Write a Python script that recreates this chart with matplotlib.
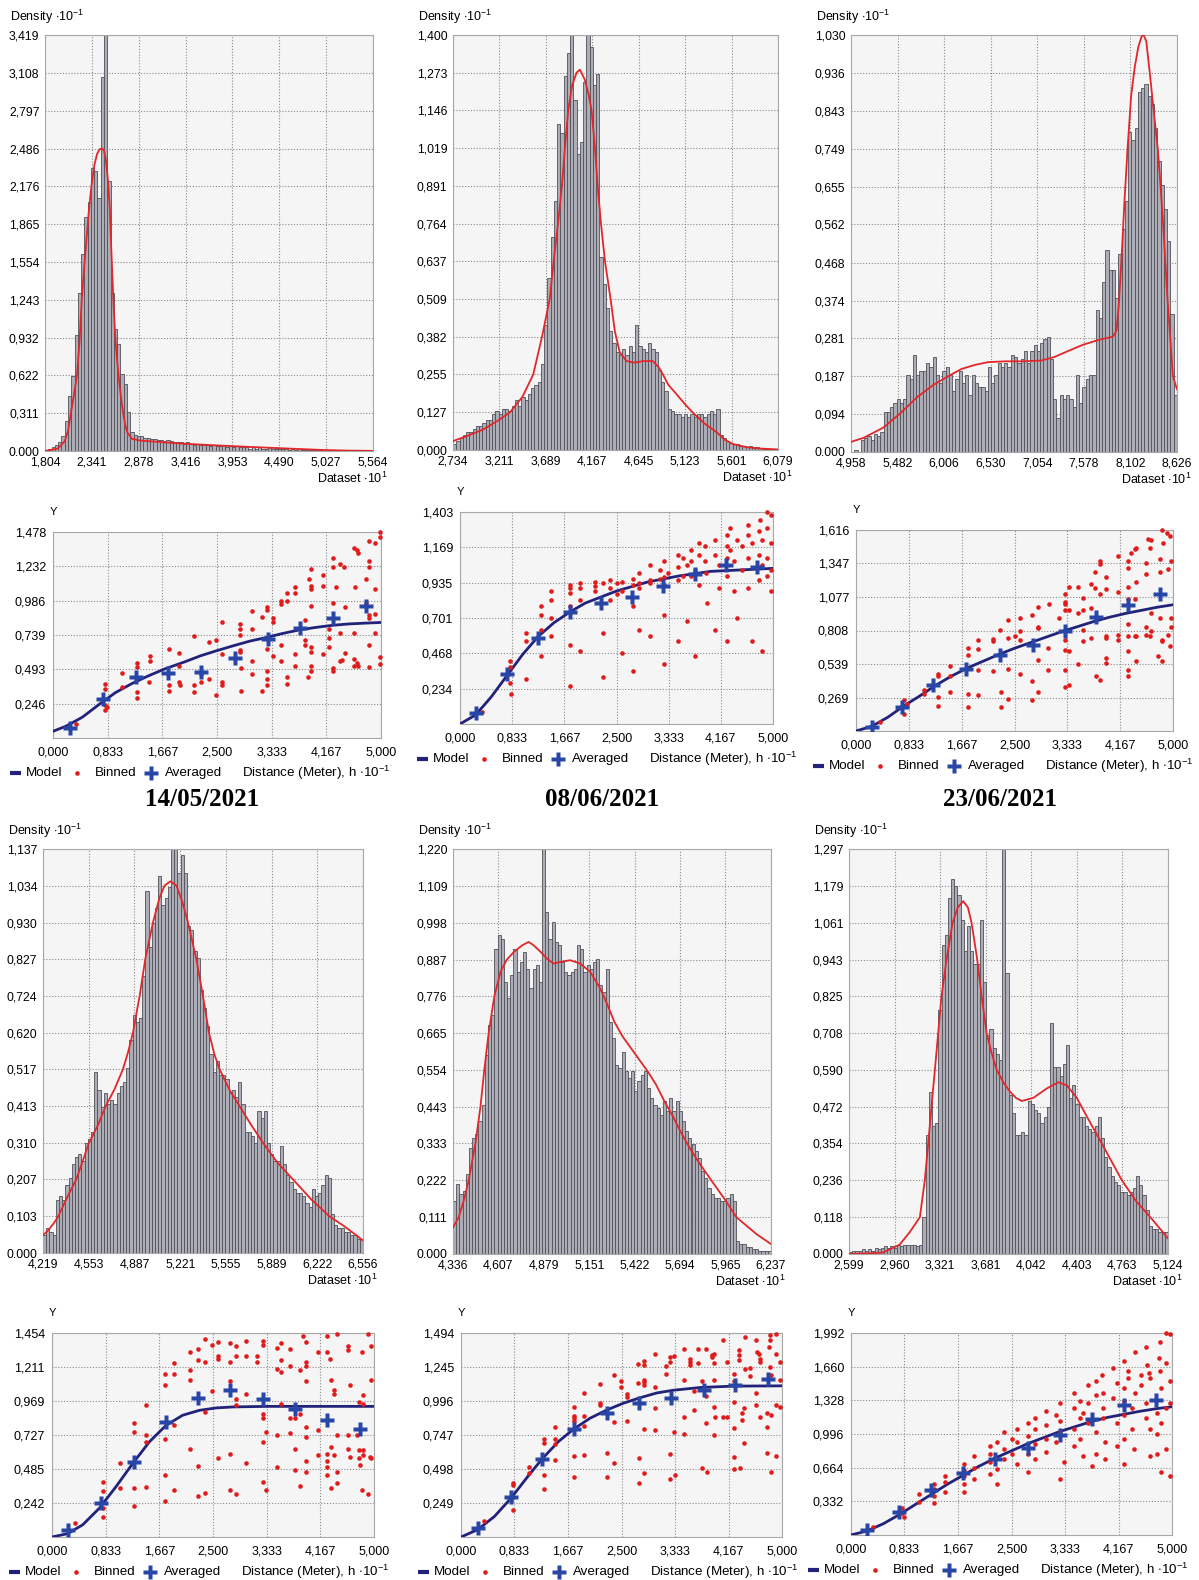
import numpy as np
import matplotlib.pyplot as plt
from matplotlib.lines import Line2D

W, H = 1199, 1580

plt.rcParams['font.family'] = ['Liberation Sans', 'DejaVu Sans']
plt.rcParams['mathtext.fontset'] = 'custom'
plt.rcParams['mathtext.rm'] = 'Liberation Sans'

BAR_FILL = '#adadb7'
BAR_EDGE = '#505058'
CURVE_RED = '#e3262a'
DOT_RED = '#e01b1b'
NAVY = '#22227a'
CROSS_BLUE = '#2846a6'
GRID = '#8a8a8a'
PANEL_BG = '#f5f5f5'

# ---------------- histograms (density 10^-1 vs dataset 10^1) ----------------
h1_xticks = [1.804, 2.341, 2.878, 3.416, 3.953, 4.490, 5.027, 5.564]
h1_yticks = [0.000, 0.311, 0.622, 0.932, 1.243, 1.554, 1.865, 2.176, 2.486, 2.797, 3.108, 3.419]
h1_heights = [0.01, 0.02, 0.03, 0.05, 0.07, 0.12, 0.25, 0.45, 0.62, 0.95,
              1.30, 1.62, 1.92, 2.05, 2.33, 2.30, 2.08, 3.07, 3.42, 2.22,
              1.30, 1.00, 0.88, 0.63, 0.55, 0.32, 0.16, 0.13, 0.12, 0.12,
              0.11, 0.11, 0.10, 0.10, 0.09, 0.09, 0.08, 0.09, 0.08, 0.07,
              0.07, 0.07, 0.06, 0.07, 0.06, 0.05, 0.06, 0.05, 0.05, 0.05,
              0.04, 0.05, 0.04, 0.04, 0.05, 0.03, 0.04, 0.03, 0.04, 0.03,
              0.03, 0.03, 0.02, 0.03, 0.02, 0.03, 0.02, 0.02, 0.03, 0.02,
              0.02, 0.02, 0.02, 0.02, 0.01, 0.02, 0.01, 0.02, 0.01, 0.01,
              0.01, 0.01, 0.01, 0.01, 0.01, 0.01, 0.005, 0.01, 0.005, 0.005,
              0.005, 0.005, 0.003, 0.003, 0.002, 0.002, 0.0, 0.0, 0.0, 0.0]
h1_curve_x = [1.804, 1.95, 2.03, 2.07, 2.10, 2.14, 2.17, 2.20, 2.225, 2.25,
              2.28, 2.31, 2.34, 2.37, 2.40, 2.43, 2.46, 2.48, 2.50, 2.52,
              2.545, 2.57, 2.59, 2.61, 2.63, 2.65, 2.675, 2.70, 2.725, 2.75,
              2.80, 2.90, 3.10, 3.40, 3.80, 4.20, 4.60, 5.00, 5.30, 5.564]
h1_curve_y = [0.0, 0.02, 0.08, 0.17, 0.31, 0.48, 0.62, 0.90, 1.24, 1.48,
              1.75, 2.00, 2.20, 2.35, 2.44, 2.48, 2.486, 2.47, 2.40, 2.27,
              2.02, 1.55, 1.20, 0.93, 0.75, 0.60, 0.44, 0.31, 0.21, 0.15,
              0.10, 0.085, 0.075, 0.06, 0.045, 0.032, 0.02, 0.008, 0.003, 0.001]

h2_xticks = [2.734, 3.211, 3.689, 4.167, 4.645, 5.123, 5.601, 6.079]
h2_yticks = [0.000, 0.127, 0.255, 0.382, 0.509, 0.637, 0.764, 0.891, 1.019, 1.146, 1.273, 1.400]
h2_heights = [0.02, 0.03, 0.04, 0.05, 0.06, 0.06, 0.07, 0.08, 0.08, 0.09,
              0.10, 0.10, 0.12, 0.13, 0.12, 0.14, 0.14, 0.13, 0.15, 0.17,
              0.15, 0.18, 0.17, 0.19, 0.21, 0.22, 0.23, 0.29, 0.42, 0.58,
              0.72, 0.84, 1.10, 1.07, 1.26, 1.34, 1.40, 1.18, 1.00, 1.04,
              1.24, 1.40, 1.36, 1.23, 1.27, 0.65, 0.56, 0.48, 0.40, 0.36,
              0.33, 0.32, 0.34, 0.32, 0.35, 0.33, 0.42, 0.35, 0.34, 0.33,
              0.36, 0.34, 0.33, 0.27, 0.23, 0.20, 0.14, 0.13, 0.12, 0.12,
              0.11, 0.12, 0.11, 0.12, 0.11, 0.12, 0.12, 0.11, 0.12, 0.13,
              0.12, 0.14, 0.05, 0.04, 0.03, 0.025, 0.02, 0.02, 0.015, 0.015,
              0.01, 0.012, 0.008, 0.01, 0.006, 0.005, 0.004, 0.003, 0.002, 0.0]
h2_curve_x = [2.734, 2.9, 3.05, 3.2, 3.32, 3.45, 3.56, 3.65, 3.73, 3.77,
              3.82, 3.855, 3.886, 3.92, 3.96, 4.006, 4.04, 4.09, 4.13, 4.16,
              4.195, 4.223, 4.257, 4.298, 4.356, 4.40, 4.45, 4.52, 4.60, 4.70,
              4.79, 4.85, 4.894, 4.95, 5.03, 5.12, 5.2, 5.32, 5.447, 5.53,
              5.616, 5.75, 5.89, 6.079]
h2_curve_y = [0.03, 0.05, 0.07, 0.10, 0.127, 0.18, 0.255, 0.382, 0.51, 0.637,
              0.78, 0.891, 1.019, 1.146, 1.23, 1.273, 1.283, 1.25, 1.20, 1.146,
              1.019, 0.891, 0.764, 0.637, 0.509, 0.40, 0.33, 0.30, 0.295, 0.30,
              0.30, 0.28, 0.255, 0.22, 0.19, 0.155, 0.127, 0.09, 0.06, 0.035,
              0.02, 0.01, 0.005, 0.002]

h3_xticks = [4.958, 5.482, 6.006, 6.530, 7.054, 7.578, 8.102, 8.626]
h3_yticks = [0.000, 0.094, 0.187, 0.281, 0.374, 0.468, 0.562, 0.655, 0.749, 0.843, 0.936, 1.030]
h3_heights = [0.0, 0.005, 0.0, 0.03, 0.035, 0.04, 0.03, 0.045, 0.04, 0.05,
              0.10, 0.10, 0.11, 0.12, 0.13, 0.12, 0.13, 0.19, 0.18, 0.24,
              0.19, 0.20, 0.20, 0.22, 0.21, 0.235, 0.19, 0.17, 0.20, 0.21,
              0.19, 0.15, 0.18, 0.20, 0.17, 0.19, 0.14, 0.19, 0.17, 0.16,
              0.16, 0.15, 0.21, 0.17, 0.19, 0.22, 0.21, 0.22, 0.21, 0.24,
              0.235, 0.22, 0.23, 0.25, 0.22, 0.25, 0.265, 0.25, 0.27, 0.28,
              0.285, 0.23, 0.13, 0.085, 0.14, 0.13, 0.14, 0.13, 0.11, 0.19,
              0.12, 0.16, 0.18, 0.19, 0.19, 0.35, 0.33, 0.42, 0.50, 0.45,
              0.45, 0.38, 0.49, 0.55, 0.62, 0.79, 0.77, 0.80, 0.89, 0.90,
              0.91, 0.88, 0.86, 0.80, 0.72, 0.66, 0.60, 0.52, 0.34, 0.14]
h3_curve_x = [4.958, 5.1, 5.32, 5.51, 5.70, 5.88, 6.05, 6.2, 6.35, 6.5,
              6.7, 6.9, 7.1, 7.25, 7.386, 7.57, 7.76, 7.87, 7.905, 7.945,
              7.97, 8.00, 8.035, 8.07, 8.11, 8.15, 8.19, 8.23, 8.25, 8.28,
              8.32, 8.36, 8.41, 8.44, 8.47, 8.52, 8.58, 8.626]
h3_curve_y = [0.025, 0.035, 0.06, 0.095, 0.135, 0.165, 0.187, 0.205, 0.215, 0.222,
              0.224, 0.224, 0.226, 0.235, 0.248, 0.265, 0.278, 0.283, 0.285, 0.30,
              0.36, 0.47, 0.62, 0.75, 0.88, 0.95, 1.00, 1.028, 1.03, 1.015,
              0.936, 0.85, 0.749, 0.66, 0.562, 0.374, 0.187, 0.155]

h4_xticks = [4.219, 4.553, 4.887, 5.221, 5.555, 5.889, 6.222, 6.556]
h4_yticks = [0.000, 0.103, 0.207, 0.310, 0.413, 0.517, 0.620, 0.724, 0.827, 0.930, 1.034, 1.137]
h4_heights = [0.05, 0.07, 0.06, 0.05, 0.15, 0.16, 0.15, 0.19, 0.21, 0.25,
              0.27, 0.28, 0.26, 0.31, 0.32, 0.34, 0.51, 0.46, 0.41, 0.45,
              0.42, 0.43, 0.42, 0.45, 0.47, 0.48, 0.52, 0.60, 0.67, 0.65,
              0.66, 0.78, 1.02, 0.86, 0.93, 0.97, 1.06, 0.98, 1.00, 1.03,
              1.14, 1.14, 1.07, 1.12, 1.07, 0.92, 0.91, 0.85, 0.83, 0.74,
              0.69, 0.64, 0.56, 0.51, 0.54, 0.50, 0.50, 0.49, 0.45, 0.46,
              0.44, 0.48, 0.42, 0.34, 0.34, 0.33, 0.31, 0.40, 0.38, 0.40,
              0.31, 0.28, 0.26, 0.26, 0.30, 0.25, 0.22, 0.20, 0.18, 0.17,
              0.17, 0.16, 0.14, 0.13, 0.18, 0.16, 0.17, 0.19, 0.22, 0.21,
              0.11, 0.08, 0.07, 0.07, 0.06, 0.06, 0.05, 0.05, 0.04, 0.04]
h4_curve_x = [4.219, 4.26, 4.30, 4.33, 4.40, 4.462, 4.555, 4.62, 4.677, 4.74,
              4.803, 4.84, 4.876, 4.925, 4.966, 5.022, 5.07, 5.107, 5.149, 5.193,
              5.235, 5.278, 5.339, 5.387, 5.431, 5.47, 5.509, 5.58, 5.655, 5.74,
              5.826, 5.93, 6.045, 6.18, 6.312, 6.42, 6.507, 6.556]
h4_curve_y = [0.05, 0.065, 0.085, 0.103, 0.16, 0.207, 0.310, 0.36, 0.413, 0.46,
              0.517, 0.565, 0.620, 0.724, 0.827, 0.930, 1.00, 1.034, 1.046, 1.034,
              0.99, 0.930, 0.827, 0.724, 0.620, 0.56, 0.517, 0.46, 0.413, 0.36,
              0.310, 0.255, 0.207, 0.15, 0.103, 0.075, 0.05, 0.035]

h5_xticks = [4.336, 4.607, 4.879, 5.151, 5.422, 5.694, 5.965, 6.237]
h5_yticks = [0.000, 0.111, 0.222, 0.333, 0.443, 0.554, 0.665, 0.776, 0.887, 0.998, 1.109, 1.220]
h5_heights = [0.16, 0.21, 0.18, 0.19, 0.24, 0.32, 0.35, 0.36, 0.40, 0.45,
              0.60, 0.69, 0.72, 0.92, 0.96, 0.95, 0.82, 0.77, 0.84, 0.92,
              0.85, 0.88, 0.91, 0.86, 0.80, 0.86, 0.87, 0.82, 1.22, 1.03,
              0.95, 1.00, 0.94, 0.93, 0.88, 0.85, 0.84, 0.85, 0.86, 0.93,
              0.92, 0.85, 0.87, 0.86, 0.88, 0.89, 0.81, 0.79, 0.86, 0.70,
              0.65, 0.57, 0.56, 0.61, 0.55, 0.53, 0.55, 0.49, 0.52, 0.54,
              0.55, 0.50, 0.47, 0.45, 0.44, 0.42, 0.46, 0.43, 0.47, 0.43,
              0.46, 0.43, 0.40, 0.37, 0.35, 0.33, 0.31, 0.29, 0.25, 0.23,
              0.20, 0.18, 0.17, 0.17, 0.16, 0.16, 0.17, 0.18, 0.16, 0.04,
              0.03, 0.03, 0.02, 0.02, 0.015, 0.015, 0.01, 0.01, 0.008, 0.008]
h5_curve_x = [4.336, 4.37, 4.40, 4.43, 4.47, 4.50, 4.523, 4.549, 4.583, 4.62,
              4.658, 4.70, 4.75, 4.788, 4.818, 4.86, 4.897, 4.937, 4.98, 5.037,
              5.096, 5.156, 5.216, 5.26, 5.30, 5.35, 5.40, 5.45, 5.50, 5.55,
              5.60, 5.65, 5.70, 5.75, 5.80, 5.88, 5.96, 6.03, 6.15, 6.237]
h5_curve_y = [0.08, 0.111, 0.16, 0.222, 0.333, 0.443, 0.554, 0.665, 0.776, 0.85,
              0.887, 0.91, 0.93, 0.94, 0.93, 0.91, 0.89, 0.875, 0.88, 0.885,
              0.875, 0.85, 0.80, 0.75, 0.70, 0.655, 0.62, 0.585, 0.55, 0.51,
              0.46, 0.415, 0.365, 0.32, 0.28, 0.222, 0.165, 0.111, 0.06, 0.03]

h6_xticks = [2.599, 2.960, 3.321, 3.681, 4.042, 4.403, 4.763, 5.124]
h6_yticks = [0.000, 0.118, 0.236, 0.354, 0.472, 0.590, 0.708, 0.825, 0.943, 1.061, 1.179, 1.297]
h6_heights = [0.005, 0.01, 0.01, 0.01, 0.015, 0.01, 0.015, 0.01, 0.02, 0.015,
              0.02, 0.025, 0.02, 0.025, 0.02, 0.03, 0.025, 0.03, 0.03, 0.03,
              0.03, 0.025, 0.03, 0.12, 0.38, 0.52, 0.41, 0.42, 0.78, 0.99,
              1.02, 1.14, 1.20, 1.18, 1.15, 1.07, 0.97, 1.05, 0.97, 0.93,
              0.93, 1.07, 0.87, 0.70, 0.72, 0.66, 0.64, 0.62, 1.30, 0.90,
              0.51, 0.45, 0.38, 0.38, 0.39, 0.38, 0.49, 0.48, 0.46, 0.45,
              0.42, 0.44, 0.47, 0.74, 0.60, 0.60, 0.57, 0.61, 0.67, 0.50,
              0.54, 0.48, 0.44, 0.44, 0.41, 0.40, 0.39, 0.41, 0.44, 0.37,
              0.31, 0.28, 0.25, 0.23, 0.22, 0.20, 0.20, 0.19, 0.20, 0.21,
              0.25, 0.22, 0.19, 0.14, 0.09, 0.08, 0.08, 0.07, 0.07, 0.07]
h6_curve_x = [2.599, 2.75, 2.87, 3.0, 3.08, 3.16, 3.199, 3.226, 3.252, 3.279,
              3.305, 3.331, 3.371, 3.419, 3.46, 3.503, 3.54, 3.569, 3.614, 3.649,
              3.688, 3.73, 3.768, 3.82, 3.873, 3.92, 3.966, 4.058, 4.164, 4.257,
              4.323, 4.402, 4.482, 4.6, 4.759, 4.87, 4.984, 5.124]
h6_curve_y = [0.0, 0.002, 0.005, 0.03, 0.07, 0.118, 0.236, 0.354, 0.472, 0.59,
              0.708, 0.825, 0.943, 1.061, 1.11, 1.13, 1.11, 1.061, 0.943, 0.825,
              0.708, 0.64, 0.59, 0.55, 0.52, 0.50, 0.49, 0.50, 0.53, 0.55,
              0.54, 0.50, 0.44, 0.354, 0.236, 0.17, 0.118, 0.05]

# ---------------- semivariograms (gamma vs distance) ----------------
vario_xticks = [0.000, 0.833, 1.667, 2.500, 3.333, 4.167, 5.000]

v1_yticks = [0.246, 0.493, 0.739, 0.986, 1.232, 1.478]
v1_model_x = [0, 0.2, 0.45, 0.7, 0.95, 1.2, 1.45, 1.7, 2.0, 2.25, 2.5,
              2.75, 3.0, 3.25, 3.5, 3.75, 4.0, 4.25, 4.5, 4.75, 5.0]
v1_model_y = [0.048, 0.085, 0.15, 0.24, 0.325, 0.39, 0.445, 0.495, 0.545, 0.59, 0.627,
              0.662, 0.695, 0.721, 0.750, 0.775, 0.793, 0.808, 0.818, 0.824, 0.829]
v1_averaged = [(0.254, 0.071), (0.763, 0.281), (1.261, 0.440), (1.755, 0.464), (2.263, 0.476),
               (2.772, 0.571), (3.281, 0.710), (3.764, 0.786), (4.273, 0.862), (4.771, 0.948)]
v1_binned = [(0.356, 0.102), (0.80, 0.39), (0.80, 0.35), (0.80, 0.24), (0.82, 0.22), (0.80, 0.20),
             (1.058, 0.464), (1.058, 0.364), (1.28, 0.54), (1.28, 0.51), (1.28, 0.33), (1.28, 0.29),
             (1.475, 0.59), (1.475, 0.55), (1.465, 0.40), (1.77, 0.64), (1.77, 0.38), (1.77, 0.34),
             (1.92, 0.61), (1.92, 0.52), (1.92, 0.40), (1.93, 0.38), (2.15, 0.73), (2.15, 0.38),
             (2.15, 0.33), (2.26, 0.46), (2.26, 0.40), (2.38, 0.69), (2.38, 0.42), (2.48, 0.70),
             (2.49, 0.305), (2.58, 0.83), (2.58, 0.60), (2.58, 0.40), (2.58, 0.38), (2.85, 0.82),
             (2.85, 0.78), (2.85, 0.74), (2.85, 0.63), (2.85, 0.62), (2.86, 0.50), (2.86, 0.34),
             (3.03, 0.91), (3.03, 0.78), (3.03, 0.55), (3.03, 0.46), (3.19, 0.87), (3.19, 0.34),
             (3.26, 0.94), (3.26, 0.92), (3.26, 0.64), (3.26, 0.48), (3.26, 0.42), (3.26, 0.38),
             (3.35, 0.86), (3.35, 0.83), (3.35, 0.59), (3.48, 0.98), (3.48, 0.96), (3.48, 0.67),
             (3.48, 0.55), (3.56, 1.04), (3.56, 0.98), (3.56, 0.44), (3.56, 0.39), (3.69, 1.08),
             (3.69, 1.04), (3.69, 0.60), (3.69, 0.52), (3.84, 0.85), (3.84, 0.70), (3.84, 0.67),
             (3.91, 1.14), (3.94, 1.21), (3.94, 1.09), (3.94, 1.07), (3.94, 0.95), (3.94, 0.65),
             (3.94, 0.62), (3.94, 0.52), (3.94, 0.48), (3.89, 0.44), (4.12, 1.17), (4.12, 1.09),
             (4.12, 0.60), (4.20, 0.78), (4.20, 0.72), (4.20, 0.65), (4.27, 1.29), (4.27, 1.23),
             (4.27, 0.97), (4.27, 0.50), (4.27, 0.48), (4.32, 1.08), (4.37, 1.25), (4.43, 1.23),
             (4.37, 0.75), (4.37, 0.555), (4.40, 0.56), (4.45, 0.94), (4.45, 0.61), (4.59, 0.75),
             (4.59, 0.57), (4.59, 0.52), (4.59, 1.36), (4.63, 1.35), (4.65, 1.33), (4.60, 1.08),
             (4.63, 0.54), (4.65, 0.52), (4.77, 1.14), (4.77, 0.97), (4.81, 1.27), (4.81, 1.23),
             (4.81, 0.88), (4.81, 0.86), (4.81, 0.67), (4.81, 0.51), (4.81, 1.41), (4.91, 1.40),
             (4.91, 1.07), (4.91, 0.89), (4.91, 0.75), (4.98, 1.48), (4.98, 1.44), (4.98, 0.58),
             (4.98, 0.53)]

v2_yticks = [0.234, 0.468, 0.701, 0.935, 1.169, 1.403]
v2_model_x = [0, 0.25, 0.5, 0.75, 1.0, 1.25, 1.5, 1.75, 2.0, 2.5, 3.0, 3.5, 4.0, 4.5, 5.0]
v2_model_y = [0, 0.06, 0.18, 0.32, 0.46, 0.58, 0.67, 0.74, 0.80, 0.88, 0.94, 0.98, 1.01, 1.02, 1.03]
v2_averaged = [(0.25, 0.07), (0.75, 0.33), (1.25, 0.57), (1.75, 0.74), (2.25, 0.80),
               (2.75, 0.84), (3.25, 0.91), (3.75, 0.99), (4.25, 1.05), (4.75, 1.04)]
v2_binned = [(0.35, 0.08), (0.80, 0.42), (0.80, 0.38), (0.80, 0.27), (0.82, 0.20), (1.06, 0.60),
             (1.06, 0.55), (1.06, 0.30), (1.30, 0.78), (1.30, 0.72), (1.30, 0.62), (1.30, 0.45),
             (1.46, 0.88), (1.46, 0.82), (1.46, 0.70), (1.46, 0.58), (1.76, 0.92), (1.76, 0.90),
             (1.76, 0.87), (1.76, 0.78), (1.76, 0.52), (1.76, 0.25), (1.91, 0.93), (1.91, 0.90),
             (1.91, 0.82), (1.91, 0.48), (2.16, 0.94), (2.16, 0.91), (2.16, 0.88), (2.28, 0.93),
             (2.28, 0.60), (2.28, 0.31), (2.39, 0.95), (2.39, 0.90), (2.39, 0.82), (2.50, 0.93),
             (2.50, 0.86), (2.59, 0.94), (2.59, 0.88), (2.59, 0.47), (2.76, 0.96), (2.76, 0.92),
             (2.76, 0.78), (2.76, 0.35), (2.86, 1.00), (2.86, 0.93), (2.86, 0.90), (2.86, 0.62),
             (3.03, 1.05), (3.03, 0.95), (3.03, 0.93), (3.03, 0.58), (3.19, 1.02), (3.19, 0.96),
             (3.26, 1.08), (3.26, 0.97), (3.26, 0.92), (3.26, 0.72), (3.26, 0.40), (3.32, 1.00),
             (3.48, 1.12), (3.48, 1.04), (3.48, 0.95), (3.48, 0.55), (3.56, 1.10), (3.56, 0.98),
             (3.62, 1.05), (3.62, 0.68), (3.69, 1.15), (3.69, 1.08), (3.69, 0.98), (3.75, 1.02),
             (3.75, 0.45), (3.82, 1.20), (3.82, 1.12), (3.82, 0.92), (3.91, 1.18), (3.91, 1.08),
             (3.93, 1.00), (3.95, 0.80), (4.08, 1.22), (4.08, 1.12), (4.08, 0.62), (4.14, 1.05),
             (4.14, 0.90), (4.26, 1.25), (4.26, 1.18), (4.26, 1.10), (4.26, 0.98), (4.26, 0.55),
             (4.32, 1.30), (4.32, 1.15), (4.38, 1.08), (4.38, 0.88), (4.43, 1.22), (4.43, 0.70),
             (4.51, 1.18), (4.51, 1.02), (4.60, 1.32), (4.60, 1.25), (4.60, 1.10), (4.60, 0.90),
             (4.66, 1.20), (4.66, 0.55), (4.77, 1.28), (4.77, 1.12), (4.77, 0.95), (4.79, 1.35),
             (4.82, 1.22), (4.83, 1.05), (4.83, 0.48), (4.91, 1.40), (4.91, 1.30), (4.91, 1.10),
             (4.91, 0.98), (4.97, 1.38), (4.97, 1.20), (4.97, 1.02), (4.97, 0.88)]

v3_yticks = [0.269, 0.539, 0.808, 1.077, 1.347, 1.616]
v3_model_x = [0, 0.25, 0.5, 0.75, 1.0, 1.25, 1.5, 1.75, 2.0, 2.25, 2.5,
              2.75, 3.0, 3.25, 3.5, 3.75, 4.0, 4.25, 4.5, 4.75, 5.0]
v3_model_y = [0.0, 0.038, 0.11, 0.20, 0.28, 0.365, 0.44, 0.505, 0.56, 0.615, 0.665,
              0.71, 0.755, 0.80, 0.84, 0.88, 0.915, 0.945, 0.97, 0.995, 1.015]
v3_averaged = [(0.247, 0.032), (0.72, 0.19), (1.22, 0.37), (1.74, 0.50), (2.27, 0.61),
               (2.79, 0.69), (3.29, 0.80), (3.79, 0.92), (4.29, 1.01), (4.79, 1.10)]
v3_binned = [(0.38, 0.07), (0.75, 0.25), (0.75, 0.14), (0.80, 0.22), (1.07, 0.33), (1.07, 0.30),
             (1.29, 0.46), (1.29, 0.44), (1.29, 0.27), (1.29, 0.20), (1.48, 0.52), (1.48, 0.44),
             (1.48, 0.315), (1.77, 0.665), (1.77, 0.61), (1.77, 0.30), (1.77, 0.19), (1.93, 0.73),
             (1.93, 0.66), (1.93, 0.49), (1.93, 0.29), (2.16, 0.74), (2.16, 0.72), (2.16, 0.48),
             (2.27, 0.81), (2.28, 0.315), (2.28, 0.19), (2.40, 0.89), (2.40, 0.75), (2.40, 0.50),
             (2.40, 0.26), (2.51, 0.76), (2.59, 0.91), (2.59, 0.80), (2.59, 0.73), (2.59, 0.46),
             (2.78, 0.93), (2.78, 0.40), (2.78, 0.25), (2.87, 1.00), (2.87, 0.84), (2.87, 0.83),
             (2.87, 0.57), (2.87, 0.31), (3.03, 0.67), (3.03, 0.49), (3.05, 1.02), (3.20, 0.91),
             (3.29, 1.10), (3.29, 1.04), (3.29, 1.02), (3.29, 0.975), (3.29, 0.73), (3.29, 0.65),
             (3.29, 0.49), (3.29, 0.355), (3.36, 1.16), (3.36, 0.975), (3.36, 0.64), (3.36, 0.37),
             (3.50, 1.16), (3.50, 0.95), (3.50, 0.54), (3.58, 1.07), (3.58, 0.975), (3.58, 0.72),
             (3.58, 0.81), (3.70, 1.18), (3.70, 0.99), (3.70, 0.75), (3.77, 1.28), (3.77, 1.15),
             (3.78, 0.44), (3.85, 1.37), (3.85, 1.34), (3.85, 1.10), (3.85, 0.41), (3.94, 1.14),
             (3.94, 1.24), (3.94, 0.76), (3.94, 0.75), (3.94, 0.585), (3.94, 0.545), (4.13, 1.41),
             (4.13, 1.12), (4.13, 0.77), (4.13, 0.73), (4.29, 1.37), (4.29, 1.31), (4.29, 1.16),
             (4.29, 1.06), (4.29, 0.86), (4.29, 0.765), (4.29, 0.64), (4.29, 0.49), (4.29, 0.44),
             (4.34, 1.43), (4.40, 1.46), (4.42, 1.47), (4.40, 0.765), (4.42, 0.76), (4.42, 0.56),
             (4.40, 1.06), (4.42, 1.20), (4.58, 1.35), (4.58, 1.26), (4.58, 0.84), (4.58, 0.77),
             (4.61, 1.54), (4.66, 1.535), (4.63, 1.47), (4.66, 0.95), (4.66, 0.80), (4.63, 0.76),
             (4.76, 0.60), (4.82, 0.56), (4.79, 1.38), (4.80, 1.28), (4.82, 0.73), (4.82, 0.72),
             (4.79, 0.91), (4.82, 1.62), (4.84, 1.51), (4.90, 1.59), (4.96, 1.57), (4.97, 1.37),
             (4.92, 1.30), (4.92, 0.77), (4.95, 0.68), (4.97, 0.91), (4.97, 0.84)]

v4_yticks = [0.242, 0.485, 0.727, 0.969, 1.211, 1.454]
v4_model_x = [0, 0.244, 0.477, 0.737, 0.996, 1.255, 1.515, 1.774, 2.03, 2.29, 2.55, 2.81, 3.33, 4.0, 5.0]
v4_model_y = [0, 0.024, 0.087, 0.206, 0.36, 0.525, 0.68, 0.797, 0.868, 0.903, 0.92, 0.927, 0.931, 0.931, 0.931]
v4_averaged = [(0.244, 0.047), (0.762, 0.241), (1.266, 0.537), (1.774, 0.82), (2.267, 0.993),
               (2.76, 1.045), (3.28, 0.986), (3.77, 0.915), (4.27, 0.832), (4.78, 0.773)]
v4_binned = [(0.35, 0.10), (0.79, 0.39), (0.79, 0.33), (0.79, 0.206), (0.79, 0.14), (1.06, 0.525),
             (1.06, 0.35), (1.28, 0.81), (1.28, 0.75), (1.28, 0.35), (1.28, 0.22), (1.46, 0.94),
             (1.46, 0.73), (1.46, 0.68), (1.46, 0.355), (1.76, 1.16), (1.76, 1.08), (1.76, 0.70),
             (1.76, 0.44), (1.76, 0.26), (1.90, 1.24), (1.90, 1.16), (1.90, 0.80), (1.90, 0.335),
             (2.15, 1.32), (2.15, 1.19), (2.15, 1.12), (2.15, 0.63), (2.27, 1.34), (2.27, 1.26),
             (2.27, 0.506), (2.27, 0.29), (2.37, 1.41), (2.37, 1.25), (2.38, 0.89), (2.38, 0.317),
             (2.49, 1.37), (2.49, 1.04), (2.58, 1.39), (2.58, 1.29), (2.58, 1.27), (2.58, 0.565),
             (2.76, 1.38), (2.76, 1.25), (2.76, 1.11), (2.76, 0.595), (2.76, 0.335), (2.86, 1.36),
             (2.86, 1.29), (2.86, 0.986), (2.86, 0.94), (2.86, 0.31), (3.02, 1.40), (3.02, 1.29),
             (3.02, 1.02), (3.02, 0.525), (3.18, 1.29), (3.18, 1.25), (3.28, 1.40), (3.28, 1.37),
             (3.28, 0.88), (3.28, 0.85), (3.28, 0.68), (3.28, 0.395), (3.33, 0.75), (3.33, 0.335),
             (3.49, 1.35), (3.49, 1.20), (3.49, 0.73), (3.49, 0.50), (3.56, 1.38), (3.56, 1.26),
             (3.56, 1.175), (3.56, 0.95), (3.69, 1.34), (3.69, 1.22), (3.69, 0.845), (3.69, 0.74),
             (3.77, 0.845), (3.77, 0.625), (3.77, 0.48), (3.85, 1.19), (3.85, 0.875), (3.85, 0.36),
             (3.90, 1.435), (3.95, 1.39), (3.95, 1.25), (3.95, 1.22), (3.95, 1.11), (3.95, 0.785),
             (3.95, 0.71), (3.95, 0.54), (3.95, 0.46), (4.13, 1.32), (4.13, 0.76), (4.13, 0.585),
             (4.27, 1.435), (4.27, 1.32), (4.27, 0.595), (4.27, 0.54), (4.27, 0.50), (4.27, 0.44),
             (4.32, 1.27), (4.34, 1.12), (4.34, 0.64), (4.38, 1.045), (4.38, 1.02), (4.38, 0.585),
             (4.34, 0.35), (4.43, 1.45), (4.43, 0.725), (4.43, 0.465), (4.43, 0.383), (4.60, 1.36),
             (4.60, 1.33), (4.63, 1.08), (4.60, 0.725), (4.60, 0.625), (4.63, 0.57), (4.73, 0.725),
             (4.76, 0.96), (4.76, 0.62), (4.76, 0.56), (4.78, 0.51), (4.81, 0.335), (4.82, 1.32),
             (4.83, 1.01), (4.83, 0.95), (4.83, 0.62), (4.83, 0.585), (4.91, 1.45), (4.96, 1.36),
             (4.96, 1.12), (4.94, 0.57), (4.96, 0.56), (4.91, 0.31)]

v5_yticks = [0.249, 0.498, 0.747, 0.996, 1.245, 1.494]
v5_model_x = [0, 0.26, 0.52, 0.78, 1.04, 1.26, 1.52, 1.755, 2.01, 2.27, 2.53, 2.79, 3.05, 3.31, 3.73, 4.25, 5.0]
v5_model_y = [0, 0.054, 0.15, 0.285, 0.443, 0.57, 0.70, 0.79, 0.87, 0.93, 0.98, 1.02, 1.055, 1.075, 1.095, 1.105, 1.107]
v5_averaged = [(0.26, 0.066), (0.78, 0.29), (1.26, 0.57), (1.755, 0.79), (2.27, 0.905),
               (2.77, 0.98), (3.27, 1.02), (3.78, 1.08), (4.27, 1.11), (4.78, 1.16)]
v5_binned = [(0.353, 0.119), (0.805, 0.399), (0.805, 0.382), (0.805, 0.20), (0.779, 0.268),
             (1.064, 0.516), (1.064, 0.472), (1.298, 0.715), (1.298, 0.691), (1.298, 0.455),
             (1.298, 0.350), (1.459, 0.803), (1.459, 0.715), (1.459, 0.681), (1.459, 0.564),
             (1.765, 0.954), (1.765, 0.886), (1.765, 0.869), (1.765, 0.852), (1.765, 0.594),
             (1.765, 0.438), (1.911, 1.051), (1.911, 0.886), (1.911, 0.813), (1.911, 0.601),
             (2.160, 1.124), (2.160, 0.978), (2.160, 0.966), (2.274, 0.613), (2.274, 0.438),
             (2.388, 1.190), (2.378, 0.844), (2.388, 0.545), (2.492, 1.144), (2.492, 1.095),
             (2.586, 1.046), (2.586, 1.022), (2.586, 0.852), (2.752, 1.270), (2.752, 1.129),
             (2.767, 0.577), (2.767, 0.399), (2.856, 1.290), (2.856, 1.258), (2.856, 1.153),
             (2.856, 1.136), (2.856, 1.112), (2.856, 0.788), (2.856, 0.472), (3.027, 1.343),
             (3.027, 1.095), (3.027, 0.942), (3.027, 0.783), (3.193, 1.251), (3.193, 1.192),
             (3.261, 1.319), (3.261, 1.282), (3.261, 0.608), (3.261, 0.423), (3.323, 1.324),
             (3.323, 0.771), (3.339, 0.455), (3.479, 1.380), (3.479, 1.148), (3.479, 0.881),
             (3.479, 0.754), (3.562, 1.307), (3.562, 1.282), (3.562, 1.258), (3.624, 1.071),
             (3.624, 0.929), (3.692, 1.380), (3.692, 1.275), (3.754, 1.144), (3.754, 0.504),
             (3.821, 1.380), (3.832, 0.479), (3.821, 0.837), (3.821, 1.032), (3.910, 1.331),
             (3.910, 1.319), (3.936, 1.343), (3.936, 1.275), (3.936, 1.153), (3.946, 0.954),
             (3.962, 0.881), (3.946, 0.747), (4.081, 1.440), (4.081, 0.876), (4.143, 1.282),
             (4.143, 0.881), (4.258, 1.197), (4.258, 1.144), (4.258, 0.990), (4.258, 0.796),
             (4.258, 0.589), (4.258, 0.496), (4.325, 1.367), (4.325, 1.331), (4.325, 1.294),
             (4.377, 0.856), (4.377, 0.905), (4.341, 0.504), (4.413, 0.686), (4.413, 0.942),
             (4.429, 1.465), (4.429, 1.234), (4.507, 1.178), (4.507, 1.241), (4.600, 1.440),
             (4.600, 1.051), (4.600, 0.966), (4.611, 1.355), (4.637, 1.343), (4.662, 1.307),
             (4.662, 0.881), (4.662, 1.282), (4.766, 0.905), (4.766, 0.808), (4.766, 0.613),
             (4.792, 1.392), (4.818, 1.440), (4.818, 1.477), (4.818, 1.246), (4.829, 1.185),
             (4.829, 0.893), (4.829, 0.479), (4.912, 1.489), (4.912, 1.343), (4.912, 0.966),
             (4.912, 0.594), (4.974, 1.282), (4.974, 1.153), (4.974, 0.949)]

v6_yticks = [0.332, 0.664, 0.996, 1.328, 1.660, 1.992]
v6_model_x = [0, 0.25, 0.5, 0.75, 1.0, 1.25, 1.5, 1.75, 2.0, 2.25, 2.5,
              2.75, 3.0, 3.25, 3.5, 3.75, 4.0, 4.25, 4.5, 4.75, 5.0]
v6_model_y = [0, 0.04, 0.11, 0.20, 0.30, 0.40, 0.50, 0.59, 0.68, 0.76, 0.83,
              0.90, 0.96, 1.02, 1.07, 1.12, 1.16, 1.19, 1.22, 1.245, 1.265]
v6_averaged = [(0.25, 0.05), (0.75, 0.23), (1.25, 0.44), (1.75, 0.61), (2.25, 0.75),
               (2.75, 0.86), (3.25, 0.99), (3.75, 1.14), (4.25, 1.28), (4.75, 1.33)]
v6_binned = [(0.35, 0.08), (0.80, 0.27), (0.80, 0.22), (0.82, 0.18), (1.06, 0.40), (1.06, 0.33),
             (1.30, 0.50), (1.30, 0.45), (1.30, 0.38), (1.30, 0.32), (1.46, 0.58), (1.46, 0.52),
             (1.46, 0.42), (1.76, 0.70), (1.76, 0.64), (1.76, 0.58), (1.76, 0.50), (1.76, 0.42),
             (1.91, 0.78), (1.91, 0.66), (1.91, 0.55), (2.16, 0.88), (2.16, 0.80), (2.16, 0.72),
             (2.16, 0.60), (2.28, 0.92), (2.28, 0.65), (2.28, 0.50), (2.39, 1.02), (2.39, 0.85),
             (2.39, 0.75), (2.50, 0.95), (2.50, 0.80), (2.59, 1.05), (2.59, 0.92), (2.59, 0.70),
             (2.76, 1.10), (2.76, 0.98), (2.76, 0.80), (2.76, 0.62), (2.86, 1.15), (2.86, 1.05),
             (2.86, 0.90), (2.86, 0.75), (3.03, 1.22), (3.03, 1.08), (3.03, 0.95), (3.03, 0.82),
             (3.19, 1.18), (3.19, 0.92), (3.26, 1.30), (3.26, 1.12), (3.26, 1.02), (3.26, 0.55),
             (3.32, 0.72), (3.48, 1.40), (3.48, 1.25), (3.48, 1.05), (3.48, 0.88), (3.56, 1.32),
             (3.56, 1.15), (3.56, 0.95), (3.62, 1.20), (3.62, 0.78), (3.69, 1.48), (3.69, 1.30),
             (3.69, 1.10), (3.75, 0.68), (3.82, 1.52), (3.82, 1.38), (3.82, 1.02), (3.82, 0.80),
             (3.91, 1.58), (3.93, 1.40), (3.93, 1.25), (3.93, 1.15), (3.95, 0.92), (3.95, 0.75),
             (4.08, 1.65), (4.08, 1.35), (4.14, 1.50), (4.14, 1.10), (4.14, 0.88), (4.26, 1.72),
             (4.26, 1.45), (4.26, 1.32), (4.26, 1.18), (4.26, 0.95), (4.26, 0.70), (4.32, 1.62),
             (4.32, 1.55), (4.38, 1.25), (4.38, 1.05), (4.41, 0.85), (4.43, 1.80), (4.43, 1.40),
             (4.51, 1.58), (4.51, 1.48), (4.60, 1.85), (4.60, 1.30), (4.60, 1.15), (4.61, 1.68),
             (4.64, 1.60), (4.66, 1.55), (4.66, 1.05), (4.66, 0.78), (4.77, 1.20), (4.77, 1.00),
             (4.77, 0.80), (4.79, 1.75), (4.82, 1.90), (4.82, 1.62), (4.83, 1.45), (4.83, 1.10),
             (4.83, 0.62), (4.91, 1.99), (4.91, 1.70), (4.91, 1.25), (4.91, 0.85), (4.97, 1.98),
             (4.97, 1.52), (4.97, 1.30), (4.97, 0.58)]

date_labels = ['14/05/2021', '08/06/2021', '23/06/2021']

fig = plt.figure(figsize=(W / 100, H / 100), dpi=100)
fig.patch.set_facecolor('white')


def fx(px):
    return px / W


def fy(py):
    return 1 - py / H


def comma(v):
    return f"{v:.3f}".replace('.', ',')


def make_axes(box):
    l, t, r, b = box
    ax = fig.add_axes([fx(l), fy(b), (r - l) / W, (b - t) / H])
    ax.set_facecolor(PANEL_BG)
    for s in ax.spines.values():
        s.set_color('#a8a8a8')
        s.set_linewidth(0.8)
    ax.grid(True, linestyle=(0, (1, 1.6)), color=GRID, linewidth=0.8, zorder=0)
    ax.set_axisbelow(True)
    return ax


def histogram(box, xticks, yticks, heights, cx, cy, zero_label='0.000'):
    l, t, r, b = box
    ax = make_axes(box)
    edges = np.linspace(xticks[0], xticks[-1], len(heights) + 1)
    ax.bar(edges[:-1], heights, width=edges[1] - edges[0], align='edge',
           color=BAR_FILL, edgecolor=BAR_EDGE, linewidth=0.6, zorder=2)
    ax.plot(cx, cy, color=CURVE_RED, lw=1.3, zorder=3)
    ax.set_xlim(xticks[0], xticks[-1])
    ax.set_ylim(0, yticks[-1])
    ax.set_xticks(xticks)
    ax.set_xticklabels([comma(v) for v in xticks])
    ax.set_yticks(yticks)
    ax.set_yticklabels([zero_label] + [comma(v) for v in yticks[1:]])
    ax.tick_params(length=0, labelsize=8.8, pad=4)
    fig.text(fx(l - 35), fy(t - 18), r'Density $\cdot$10$^{-1}$', fontsize=9,
             ha='left', va='center')
    fig.text(fx(r + 15), fy(b + 27), r'Dataset $\cdot$10$^{1}$', fontsize=9,
             ha='right', va='center')
    return ax


def variogram(box, yticks, mx, my, averaged, binned):
    l, t, r, b = box
    ax = make_axes(box)
    ax.plot(mx, my, color=NAVY, lw=2.0, zorder=3, solid_capstyle='round')
    bx, by = zip(*binned)
    ax.plot(bx, by, 'o', color=DOT_RED, ms=3.3, mec='none', zorder=4, clip_on=False)
    axx, ayy = zip(*averaged)
    ax.plot(axx, ayy, 'P', color=CROSS_BLUE, ms=10, mec='none', zorder=5)
    ax.set_xlim(vario_xticks[0], vario_xticks[-1])
    ax.set_ylim(0, yticks[-1])
    ax.set_xticks(vario_xticks)
    ax.set_xticklabels([comma(v) for v in vario_xticks])
    ax.set_yticks(yticks)
    ax.set_yticklabels([comma(v) for v in yticks])
    ax.tick_params(length=0, labelsize=9, pad=5)
    ax.tick_params(axis='x', pad=6)
    fig.text(fx(l), fy(t - 20), 'Y', fontsize=8, ha='center', va='center')
    # legend row under the axis
    ly = fy(b + 35)
    fig.add_artist(Line2D([fx(l - 43), fx(l - 32)], [ly, ly], color=NAVY, lw=3,
                          solid_capstyle='butt'))
    fig.text(fx(l - 27), ly, 'Model', fontsize=9.6, ha='left', va='center')
    fig.add_artist(Line2D([fx(l + 24)], [ly], marker='o', ms=3.3, color=DOT_RED, mec='none'))
    fig.text(fx(l + 42), ly, 'Binned', fontsize=9.6, ha='left', va='center')
    fig.add_artist(Line2D([fx(l + 98)], [ly], marker='P', ms=10, color=CROSS_BLUE, mec='none'))
    fig.text(fx(l + 112), ly, 'Averaged', fontsize=9.6, ha='left', va='center')
    fig.text(fx(l + 189), ly, r'Distance (Meter), h $\cdot$10$^{-1}$', fontsize=9.6,
             ha='left', va='center')
    return ax


histogram((45, 35, 373, 451), h1_xticks, h1_yticks, h1_heights, h1_curve_x, h1_curve_y)
histogram((453, 35, 778, 450), h2_xticks, h2_yticks, h2_heights, h2_curve_x, h2_curve_y,
          zero_label='0,000')
histogram((851, 35, 1177, 452), h3_xticks, h3_yticks, h3_heights, h3_curve_x, h3_curve_y)

variogram((53, 532, 381, 738), v1_yticks, v1_model_x, v1_model_y, v1_averaged, v1_binned)
variogram((460, 512, 773, 724), v2_yticks, v2_model_x, v2_model_y, v2_averaged, v2_binned)
variogram((856, 530, 1173, 731), v3_yticks, v3_model_x, v3_model_y, v3_averaged, v3_binned)

for cxp, label in zip([202, 602, 1000], date_labels):
    fig.text(fx(cxp), fy(799), label, fontsize=18, fontweight='bold',
             family='Liberation Serif', ha='center', va='center')

histogram((43, 849, 363, 1253), h4_xticks, h4_yticks, h4_heights, h4_curve_x, h4_curve_y)
histogram((453, 849, 771, 1254), h5_xticks, h5_yticks, h5_heights, h5_curve_x, h5_curve_y)
histogram((849, 849, 1168, 1254), h6_xticks, h6_yticks, h6_heights, h6_curve_x, h6_curve_y)

variogram((52, 1333, 374, 1537), v4_yticks, v4_model_x, v4_model_y, v4_averaged, v4_binned)
variogram((461, 1333, 782, 1537), v5_yticks, v5_model_x, v5_model_y, v5_averaged, v5_binned)
variogram((851, 1333, 1172, 1535), v6_yticks, v6_model_x, v6_model_y, v6_averaged, v6_binned)

fig.savefig('out.png', dpi=100, facecolor='white')
